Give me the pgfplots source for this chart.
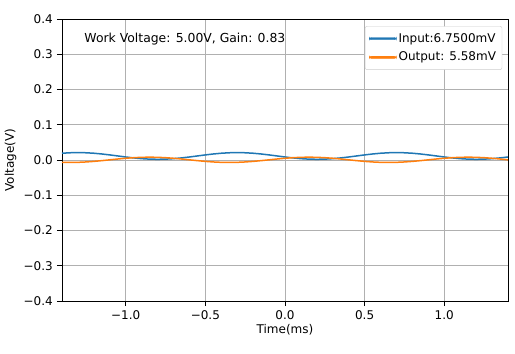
\documentclass[border=0pt]{standalone}
\usepackage{pgfplots}
\pgfplotsset{compat=1.18}
\usepackage{fontspec}
\setmainfont{DejaVu Sans}
\definecolor{mplblue}{HTML}{1F77B4}
\definecolor{mplorange}{HTML}{FF7F0E}
\pgfplotstableread{
t v
-1.40 0.01919
-1.35 0.02054
-1.30 0.02100
-1.25 0.02054
-1.20 0.01919
-1.15 0.01708
-1.10 0.01444
-1.05 0.01150
-1.00 0.00856
-0.95 0.00592
-0.90 0.00381
-0.85 0.00246
-0.80 0.00200
-0.75 0.00246
-0.70 0.00381
-0.65 0.00592
-0.60 0.00856
-0.55 0.01150
-0.50 0.01444
-0.45 0.01708
-0.40 0.01919
-0.35 0.02054
-0.30 0.02100
-0.25 0.02054
-0.20 0.01919
-0.15 0.01708
-0.10 0.01444
-0.05 0.01150
0.00 0.00856
0.05 0.00592
0.10 0.00381
0.15 0.00246
0.20 0.00200
0.25 0.00246
0.30 0.00381
0.35 0.00592
0.40 0.00856
0.45 0.01150
0.50 0.01444
0.55 0.01708
0.60 0.01919
0.65 0.02054
0.70 0.02100
0.75 0.02054
0.80 0.01919
0.85 0.01708
0.90 0.01444
0.95 0.01150
1.00 0.00856
1.05 0.00592
1.10 0.00381
1.15 0.00246
1.20 0.00200
1.25 0.00246
1.30 0.00381
1.35 0.00592
1.40 0.00856
}\inputdata
\pgfplotstableread{
t v
-1.40 -0.00663
-1.35 -0.00700
-1.30 -0.00663
-1.25 -0.00557
-1.20 -0.00391
-1.15 -0.00182
-1.10 0.00050
-1.05 0.00282
-1.00 0.00491
-0.95 0.00657
-0.90 0.00763
-0.85 0.00800
-0.80 0.00763
-0.75 0.00657
-0.70 0.00491
-0.65 0.00282
-0.60 0.00050
-0.55 -0.00182
-0.50 -0.00391
-0.45 -0.00557
-0.40 -0.00663
-0.35 -0.00700
-0.30 -0.00663
-0.25 -0.00557
-0.20 -0.00391
-0.15 -0.00182
-0.10 0.00050
-0.05 0.00282
0.00 0.00491
0.05 0.00657
0.10 0.00763
0.15 0.00800
0.20 0.00763
0.25 0.00657
0.30 0.00491
0.35 0.00282
0.40 0.00050
0.45 -0.00182
0.50 -0.00391
0.55 -0.00557
0.60 -0.00663
0.65 -0.00700
0.70 -0.00663
0.75 -0.00557
0.80 -0.00391
0.85 -0.00182
0.90 0.00050
0.95 0.00282
1.00 0.00491
1.05 0.00657
1.10 0.00763
1.15 0.00800
1.20 0.00763
1.25 0.00657
1.30 0.00491
1.35 0.00282
1.40 0.00050
}\outputdata
\begin{document}
\fontsize{12}{14.5}\selectfont
\begin{tikzpicture}
\useasboundingbox (-62pt,-53pt) rectangle (453pt,301pt);
\begin{axis}[
  at={(0pt,0pt)}, anchor=south west,
  scale only axis, width=446pt, height=282pt,
  xmin=-1.4, xmax=1.4, ymin=-0.4, ymax=0.4,
  xtick={-1,-0.5,0,0.5,1},
  xticklabels={−1.0,−0.5,0.0,0.5,1.0},
  ytick={-0.4,-0.3,-0.2,-0.1,0,0.1,0.2,0.3,0.4},
  yticklabels={−0.4,−0.3,−0.2,−0.1,0.0,0.1,0.2,0.3,0.4},
  tick align=outside, major tick length=5pt,
  tick style={black, line width=0.6pt},
  xtick pos=bottom, ytick pos=left,
  grid=major, grid style={color=black!31, line width=0.6pt},
  axis line style={line width=0.6pt},
  xlabel={Time(ms)}, ylabel={Voltage(V)},
  every tick label/.append style={font=\fontsize{12}{14.5}\selectfont},
  label style={font=\fontsize{12}{14.5}\selectfont},
  xlabel style={yshift=3pt},
  ylabel style={yshift=-1pt},
  legend style={at={(rel axis cs:0.987,0.975)}, anchor=north east,
    draw=black!20, rounded corners=2pt, fill=white,
    font=\fontsize{12}{14.5}\selectfont, row sep=4pt, inner xsep=4pt, inner ysep=5pt},
  legend cell align=left,
]
\addplot[color=mplblue, line width=1.5pt, forget plot] table[x=t,y=v] {\inputdata};
\addplot[color=mplorange, line width=1.5pt, forget plot] table[x=t,y=v] {\outputdata};
\addlegendimage{legend image code/.code={\fill[mplblue] (0pt,-1.1pt) rectangle (27pt,1.1pt);}}
\addlegendentry{Input:6.7500mV}
\addlegendimage{legend image code/.code={\fill[mplorange] (0pt,-1.1pt) rectangle (27pt,1.1pt);}}
\addlegendentry{Output: 5.58mV}
\node[anchor=north west, inner sep=0pt, font=\fontsize{12.4}{15}\selectfont] at (rel axis cs:0.05,0.95) {Work Voltage: 5.00V, Gain: 0.83};
\end{axis}
\end{tikzpicture}
\end{document}
